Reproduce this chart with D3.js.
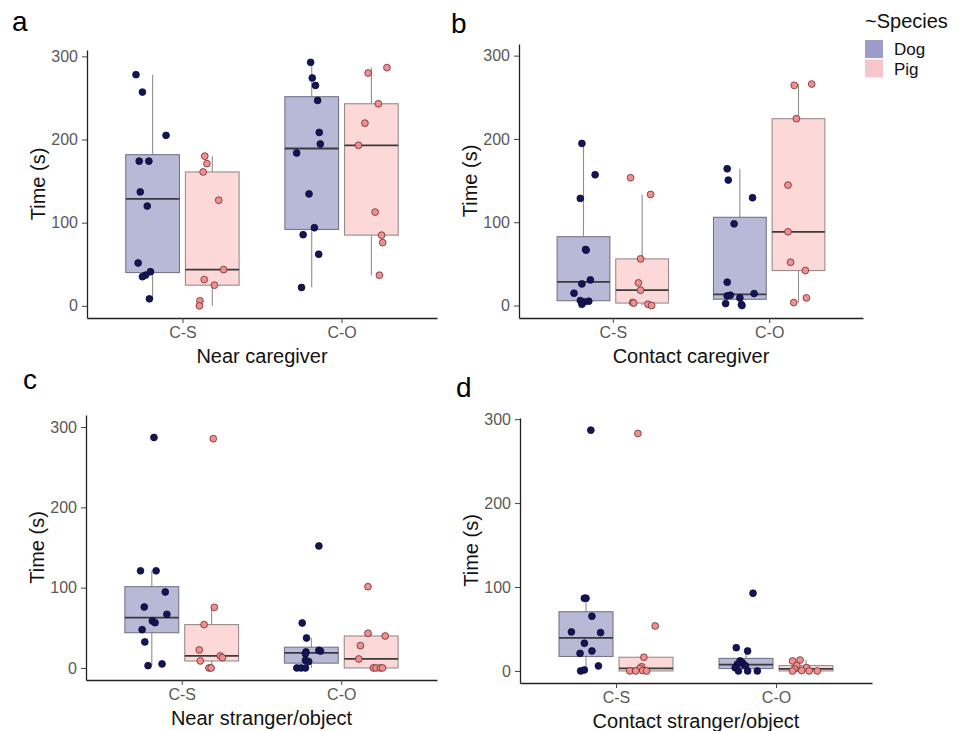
<!DOCTYPE html>
<html>
<head>
<meta charset="utf-8">
<script src="https://cdn.jsdelivr.net/npm/d3@7"></script>
<style>
  body { margin: 0; background: #fff; }
  svg { font-family: "Liberation Sans", Arial, sans-serif; }
</style>
</head>
<body>
<div id="chart"></div>
<script>
// categories / labels
const categories = ["C-S", "C-O"];
const speciesNames = ["Dog", "Pig"];
const yTickValues = [0, 100, 200, 300];
const panelLetters = ["a", "b", "c", "d"];
const xTitles = ["Near caregiver", "Contact caregiver", "Near stranger/object", "Contact stranger/object"];
const yTitle = "Time (s)";
const legendTitle = "~Species";
// upper end of each panel's y range (before ggplot's 5% expansion)
const yMaxes = [293, 299, 300, 287];

// time values (s)
const nearCaregiver = {
  Dog: { "C-S": [278, 257, 205, 174, 174, 137, 120, 51.5, 41, 37, 35, 8.4],
         "C-O": [292.8, 274, 265, 247, 208.5, 194.6, 183.8, 134.6, 93.9, 85.5, 62, 22] },
  Pig: { "C-S": [180, 171, 161, 127, 43.5, 31.6, 24.8, 6, 0],
         "C-O": [280, 286.5, 243, 219.7, 193, 112.7, 85, 76, 36.8] }
};
const contactCaregiver = {
  Dog: { "C-S": [194.6, 157, 128.6, 67.3, 66.5, 30.8, 26, 14.8, 6, 5.2, 4.4, 1.6],
         "C-O": [164.2, 150.6, 129.4, 98.1, 28, 12.4, 11.6, 14.4, 9.2, 2.4, 1.2, 0] },
  Pig: { "C-S": [153.4, 133.4, 56, 27.2, 18.4, 3.6, 3, 1.6, 0],
         "C-O": [264.3, 265.9, 224.3, 144.6, 88.5, 52, 42, 9.2, 3.6] }
};
const nearStranger = {
  Dog: { "C-S": [287, 121, 121, 94.6, 75.9, 66.8, 58.5, 56.4, 47.7, 32.4, 2.9, 5],
         "C-O": [151.9, 56, 37.3, 22, 21, 19.9, 17.8, 9.5, 8, 0, 0, 0] },
  Pig: { "C-S": [285.5, 75.5, 54, 22.4, 8.7, 15, 12.9, 0, 0],
         "C-O": [101.2, 43.2, 39.8, 27.8, 11.2, 0, 0, 0, 0] }
};
const contactStranger = {
  Dog: { "C-S": [286.9, 86.6, 86.6, 65.2, 46.5, 45.7, 33, 23.8, 21, 6, 0, 1.2],
         "C-O": [92.6, 27.7, 23.8, 12, 10, 8, 7, 6, 3.8, 0, 0, 0] },
  Pig: { "C-S": [282.9, 53.6, 16.3, 5, 3, 0.5, 0, 0, 0],
         "C-O": [13, 11.9, 6.4, 4, 2.4, 0.5, 0, 0, 0] }
};

// horizontal jitter of each point, as a fraction of the box width
const nearCaregiverJitter = {
  Dog: { "C-S": [-0.31, -0.19, 0.25, -0.25, -0.07, -0.23, -0.10, -0.27, -0.04, -0.13, -0.19, -0.06],
         "C-O": [-0.02, 0.01, 0.07, 0.11, 0.14, 0.16, -0.28, -0.05, 0.05, -0.16, 0.13, -0.19] },
  Pig: { "C-S": [-0.14, -0.10, -0.17, 0.12, 0.21, -0.15, 0.04, -0.23, -0.24],
         "C-O": [-0.06, 0.29, 0.13, -0.12, -0.24, 0.07, 0.19, 0.21, 0.15] }
};
const contactCaregiverJitter = {
  Dog: { "C-S": [-0.03, 0.22, -0.06, 0.04, 0.05, 0.13, -0.03, -0.18, -0.06, 0.10, 0.01, -0.03],
         "C-O": [-0.24, -0.22, 0.24, -0.11, -0.24, -0.18, -0.24, 0.27, 0, -0.27, 0.03, 0.04] },
  Pig: { "C-S": [-0.22, 0.16, -0.03, -0.07, -0.03, -0.18, -0.16, 0.11, 0.18],
         "C-O": [-0.08, 0.25, -0.04, -0.20, -0.20, -0.15, 0.13, 0.15, -0.09] }
};
const nearStrangerJitter = {
  Dog: { "C-S": [0.04, -0.21, 0.08, 0.25, -0.14, 0.28, 0.01, 0.06, -0.18, -0.13, -0.07, 0.19],
         "C-O": [0.14, -0.17, -0.09, 0.14, 0.17, -0.10, -0.11, -0.11, -0.05, -0.27, -0.19, -0.11] },
  Pig: { "C-S": [0.03, 0.05, -0.14, -0.23, -0.21, 0.16, 0.20, -0.05, -0.01],
         "C-O": [-0.06, -0.06, 0.26, -0.20, -0.23, 0.04, 0.09, 0.17, 0.21] }
};
const contactStrangerJitter = {
  Dog: { "C-S": [0.09, -0.03, 0, 0.11, -0.27, 0.27, -0.03, 0.11, -0.11, 0.23, -0.10, -0.03],
         "C-O": [0.13, -0.18, 0.03, -0.11, -0.07, -0.16, -0.03, -0.01, -0.20, -0.14, 0.03, 0.21] },
  Pig: { "C-S": [-0.15, 0.17, -0.04, -0.08, -0.11, -0.06, -0.30, -0.19, 0.01],
         "C-O": [-0.11, -0.25, -0.17, 0.01, -0.21, -0.08, -0.25, 0.06, 0.21] }
};

const panelData = [nearCaregiver, contactCaregiver, nearStranger, contactStranger];
const panelJitter = [nearCaregiverJitter, contactCaregiverJitter, nearStrangerJitter, contactStrangerJitter];

// layout of each plot area
const layout = [
  { x0: 87, x1: 437, y0: 50, y1: 318, letterX: 12, letterY: 31 },
  { x0: 519, x1: 863, y0: 44, y1: 318, letterX: 451, letterY: 33 },
  { x0: 86, x1: 437, y0: 415, y1: 680, letterX: 23, letterY: 389 },
  { x0: 520, x1: 872, y0: 418, y1: 683, letterX: 456, letterY: 397 }
];

const width = 965, height = 731;
const boxFill = { Dog: "#b8b9d6", Pig: "#fcd8d8" };
const boxStroke = { Dog: "#76768a", Pig: "#9a8c8c" };
const pointFill = { Dog: "#14145a", Pig: "#f28e8e" };
const pointStroke = { Dog: "#0a0a30", Pig: "#6a2c2c" };
const legendFill = { Dog: "#9c9bc9", Pig: "#f8c5ca" };

const svg = d3.select("#chart")
  .append("svg")
  .attr("width", width)
  .attr("height", height);

const boxStats = (values) => {
  const s = values.slice().sort(d3.ascending);
  const q1 = d3.quantile(s, 0.25);
  const med = d3.quantile(s, 0.5);
  const q3 = d3.quantile(s, 0.75);
  const iqr = q3 - q1;
  const lo = d3.min(s.filter(v => v >= q1 - 1.5 * iqr));
  const hi = d3.max(s.filter(v => v <= q3 + 1.5 * iqr));
  return { q1, med, q3, lo, hi };
};

const drawPanel = (i) => {
  const L = layout[i];
  const data = panelData[i];
  const jit = panelJitter[i];
  const M = yMaxes[i];

  const y = d3.scaleLinear().domain([-0.05 * M, 1.05 * M]).range([L.y1, L.y0]);
  const x = d3.scalePoint().domain(categories).range([L.x0, L.x1]).padding(0.6);
  const unit = x.step();
  const dodge = { Dog: -0.1875 * unit, Pig: 0.1875 * unit };
  const boxW = 0.3375 * unit;

  const g = svg.append("g");

  // boxes
  categories.forEach(cat => {
    speciesNames.forEach(sp => {
      const st = boxStats(data[sp][cat]);
      const cx = x(cat) + dodge[sp];
      const bg = g.append("g");
      bg.append("line")
        .attr("x1", cx).attr("x2", cx)
        .attr("y1", y(st.hi)).attr("y2", y(st.q3))
        .attr("stroke", "#8f8f8f").attr("stroke-width", 1.1);
      bg.append("line")
        .attr("x1", cx).attr("x2", cx)
        .attr("y1", y(st.q1)).attr("y2", y(st.lo))
        .attr("stroke", "#8f8f8f").attr("stroke-width", 1.1);
      bg.append("rect")
        .attr("x", cx - boxW / 2)
        .attr("y", y(st.q3))
        .attr("width", boxW)
        .attr("height", y(st.q1) - y(st.q3))
        .attr("fill", boxFill[sp])
        .attr("stroke", boxStroke[sp])
        .attr("stroke-width", 1.1);
      bg.append("line")
        .attr("x1", cx - boxW / 2).attr("x2", cx + boxW / 2)
        .attr("y1", y(st.med)).attr("y2", y(st.med))
        .attr("stroke", "#3a3a3a").attr("stroke-width", 1.8);
    });
  });

  // jittered points
  categories.forEach(cat => {
    speciesNames.forEach(sp => {
      const cx = x(cat) + dodge[sp];
      const pts = data[sp][cat].map((v, k) => ({ v, j: jit[sp][cat][k] }));
      g.append("g")
        .selectAll("circle")
        .data(pts)
        .join("circle")
        .attr("cx", d => cx + d.j * boxW)
        .attr("cy", d => y(d.v))
        .attr("r", 3.4)
        .attr("fill", pointFill[sp])
        .attr("stroke", pointStroke[sp])
        .attr("stroke-width", 0.8);
    });
  });

  // axes
  const yAxis = g.append("g")
    .attr("transform", `translate(${L.x0},0)`)
    .call(d3.axisLeft(y).tickValues(yTickValues).tickSize(5).tickSizeOuter(0).tickPadding(4));
  const xAxis = g.append("g")
    .attr("transform", `translate(0,${L.y1})`)
    .call(d3.axisBottom(x).tickSize(5).tickSizeOuter(0).tickPadding(4));

  [yAxis, xAxis].forEach(ax => {
    ax.select(".domain").attr("stroke", "#222").attr("stroke-width", 1.3);
    ax.selectAll(".tick line").attr("stroke", "#444").attr("stroke-width", 1);
    ax.selectAll(".tick text")
      .attr("fill", "#595959")
      .style("font-size", "16px")
      .style("font-family", "'Liberation Sans', Arial, sans-serif");
  });

  // titles
  g.append("text")
    .attr("x", (L.x0 + L.x1) / 2)
    .attr("y", L.y1 + 45)
    .attr("text-anchor", "middle")
    .attr("fill", "#111")
    .style("font-size", "20px")
    .text(xTitles[i]);

  g.append("text")
    .attr("transform", `translate(${L.x0 - 42},${(L.y0 + L.y1) / 2}) rotate(-90)`)
    .attr("text-anchor", "middle")
    .attr("fill", "#111")
    .style("font-size", "20px")
    .text(yTitle);

  g.append("text")
    .attr("x", L.letterX)
    .attr("y", L.letterY)
    .attr("fill", "#000")
    .style("font-size", "28px")
    .text(panelLetters[i]);
};

d3.range(4).forEach(drawPanel);

// legend
const legend = svg.append("g").attr("transform", "translate(865,0)");
legend.append("text")
  .attr("x", 0).attr("y", 28)
  .attr("fill", "#111")
  .style("font-size", "20px")
  .text(legendTitle);
speciesNames.forEach((sp, k) => {
  legend.append("rect")
    .attr("x", 0).attr("y", 40 + k * 19.5)
    .attr("width", 18).attr("height", 18)
    .attr("fill", legendFill[sp]);
  legend.append("text")
    .attr("x", 29).attr("y", 55 + k * 19.5)
    .attr("fill", "#111")
    .style("font-size", "17px")
    .text(sp);
});
</script>
</body>
</html>
